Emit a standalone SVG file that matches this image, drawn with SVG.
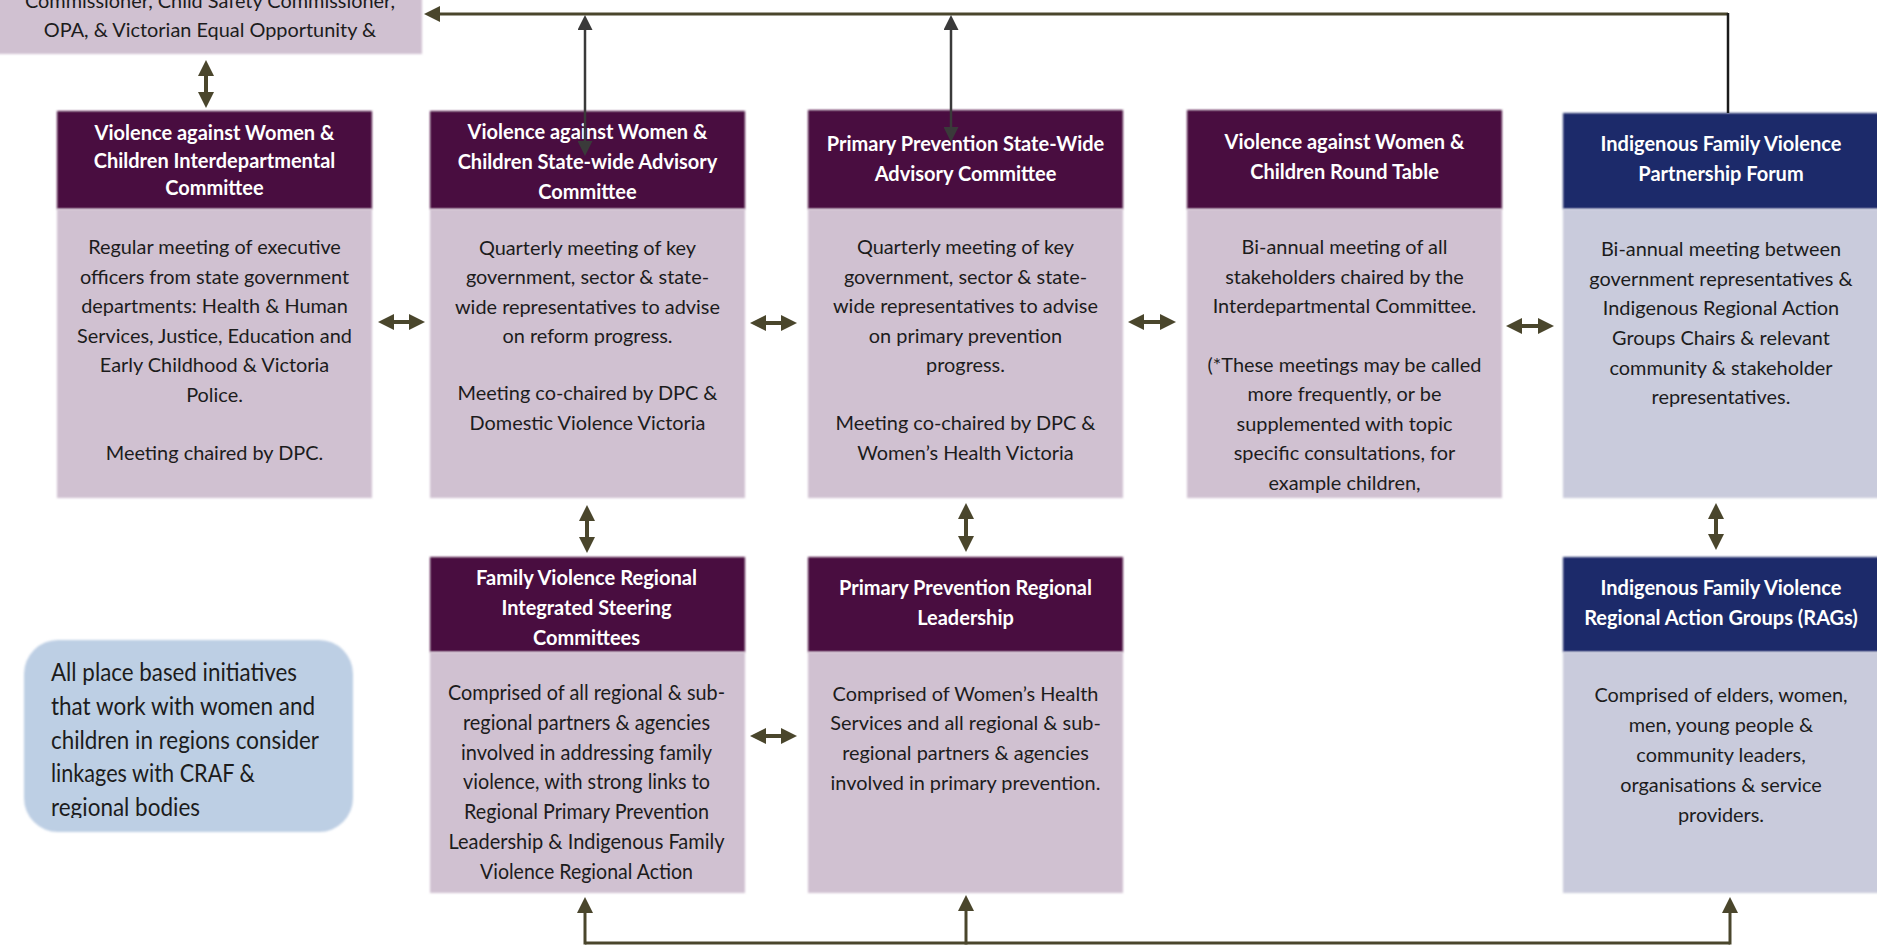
<svg xmlns="http://www.w3.org/2000/svg" width="1877" height="946" viewBox="0 0 1877 946">
<style>
.hp{fill:#4a0b3f}
.bp{fill:#d0c1d1}
.hb{fill:#1b296b}
.bb{fill:#c9cbdc}
.ht{font-family:Lato,"Open Sans",sans-serif;font-weight:bold;font-size:20px;fill:#ffffff;text-anchor:middle}
.bt{font-family:Lato,"Open Sans",sans-serif;font-size:19.9px;fill:#1c1c1c;text-anchor:middle}
.ct{font-family:Lato,"Open Sans",sans-serif;font-size:20.5px;fill:#1c1c1c;text-anchor:middle}
.cht{font-family:Lato,"Open Sans",sans-serif;font-weight:bold;font-size:20.5px;fill:#ffffff;text-anchor:middle}
.rt{font-family:Lato,"Open Sans",sans-serif;font-size:24.5px;fill:#1c1c1c}
.ol{stroke:#4a462c;fill:none}
.dk{stroke:#3a3a3a;fill:none}
</style>
<defs>
<filter id="soft" x="-5%" y="-5%" width="110%" height="110%"><feGaussianBlur stdDeviation="1.2"/></filter>
<marker id="ao" viewBox="0 0 16 16" refX="1" refY="8" markerWidth="16" markerHeight="16" markerUnits="userSpaceOnUse" orient="auto-start-reverse"><path d="M0,0 L16,8 L0,16 z" fill="#4a462c"/></marker>
<marker id="ad" viewBox="0 0 16 16" refX="1" refY="8" markerWidth="15" markerHeight="15" markerUnits="userSpaceOnUse" orient="auto-start-reverse"><path d="M0,0 L16,8 L0,16 z" fill="#3a3a3a"/></marker>
<clipPath id="rclip"><rect x="20" y="640" width="340" height="178"/></clipPath>
</defs>

<g id="top-box">
<rect x="-2" y="-2" width="424" height="56" class="bp" filter="url(#soft)"/>
<text class="bt" x="210" y="8">Commissioner, Child Safety Commissioner,</text>
<text class="bt" x="210" y="37">OPA, &amp; Victorian Equal Opportunity &amp;</text>
</g>

<g id="vawc-interdepartmental">
<rect x="57" y="111" width="315" height="98" class="hp" filter="url(#soft)"/>
<rect x="57" y="209" width="315" height="289" class="bp" filter="url(#soft)"/>
<text class="ht" x="214.5" y="140">Violence against Women &amp;</text>
<text class="ht" x="214.5" y="168">Children Interdepartmental</text>
<text class="ht" x="214.5" y="195">Committee</text>
<text class="bt" x="214.5" y="254">Regular meeting of executive</text>
<text class="bt" x="214.5" y="284">officers from state government</text>
<text class="bt" x="214.5" y="313">departments: Health &amp; Human</text>
<text class="bt" x="214.5" y="343">Services, Justice, Education and</text>
<text class="bt" x="214.5" y="372">Early Childhood &amp; Victoria</text>
<text class="bt" x="214.5" y="402">Police.</text>
<text class="bt" x="214.5" y="460">Meeting chaired by DPC.</text>
</g>

<g id="vawc-statewide-advisory">
<rect x="430" y="111" width="315" height="98" class="hp" filter="url(#soft)"/>
<rect x="430" y="209" width="315" height="289" class="bp" filter="url(#soft)"/>
<text class="ht" x="587.5" y="139">Violence against Women &amp;</text>
<text class="ht" x="587.5" y="169">Children State-wide Advisory</text>
<text class="ht" x="587.5" y="199">Committee</text>
<text class="bt" x="587.5" y="255">Quarterly meeting of key</text>
<text class="bt" x="587.5" y="284">government, sector &amp; state-</text>
<text class="bt" x="587.5" y="314">wide representatives to advise</text>
<text class="bt" x="587.5" y="343">on reform progress.</text>
<text class="bt" x="587.5" y="400">Meeting co-chaired by DPC &amp;</text>
<text class="bt" x="587.5" y="430">Domestic Violence Victoria</text>
</g>

<g id="pp-statewide-advisory">
<rect x="808" y="110" width="315" height="99" class="hp" filter="url(#soft)"/>
<rect x="808" y="209" width="315" height="289" class="bp" filter="url(#soft)"/>
<text class="ht" x="965.5" y="151">Primary Prevention State-Wide</text>
<text class="ht" x="965.5" y="181">Advisory Committee</text>
<text class="bt" x="965.5" y="254">Quarterly meeting of key</text>
<text class="bt" x="965.5" y="284">government, sector &amp; state-</text>
<text class="bt" x="965.5" y="313">wide representatives to advise</text>
<text class="bt" x="965.5" y="343">on primary prevention</text>
<text class="bt" x="965.5" y="372">progress.</text>
<text class="bt" x="965.5" y="430">Meeting co-chaired by DPC &amp;</text>
<text class="bt" x="965.5" y="460">Women’s Health Victoria</text>
</g>

<g id="vawc-round-table">
<rect x="1187" y="110" width="315" height="99" class="hp" filter="url(#soft)"/>
<rect x="1187" y="209" width="315" height="289" class="bp" filter="url(#soft)"/>
<text class="ht" x="1344.5" y="149">Violence against Women &amp;</text>
<text class="ht" x="1344.5" y="179">Children Round Table</text>
<text class="bt" x="1344.5" y="254">Bi-annual meeting of all</text>
<text class="bt" x="1344.5" y="284">stakeholders chaired by the</text>
<text class="bt" x="1344.5" y="313">Interdepartmental Committee.</text>
<text class="bt" x="1344.5" y="372">(*These meetings may be called</text>
<text class="bt" x="1344.5" y="401">more frequently, or be</text>
<text class="bt" x="1344.5" y="431">supplemented with topic</text>
<text class="bt" x="1344.5" y="460">specific consultations, for</text>
<text class="bt" x="1344.5" y="490">example children,</text>
</g>

<g id="ifv-partnership-forum">
<rect x="1563" y="113" width="316" height="96" class="hb" filter="url(#soft)"/>
<rect x="1563" y="209" width="316" height="289" class="bb" filter="url(#soft)"/>
<text class="ht" x="1721" y="151">Indigenous Family Violence</text>
<text class="ht" x="1721" y="181">Partnership Forum</text>
<text class="bt" x="1721" y="256">Bi-annual meeting between</text>
<text class="bt" x="1721" y="286">government representatives &amp;</text>
<text class="bt" x="1721" y="315">Indigenous Regional Action</text>
<text class="bt" x="1721" y="345">Groups Chairs &amp; relevant</text>
<text class="bt" x="1721" y="375">community &amp; stakeholder</text>
<text class="bt" x="1721" y="404">representatives.</text>
</g>

<g id="fv-regional-steering">
<rect x="430" y="557" width="315" height="95" class="hp" filter="url(#soft)"/>
<rect x="430" y="652" width="315" height="241" class="bp" filter="url(#soft)"/>
<text class="cht" x="586.5" y="585" textLength="221" lengthAdjust="spacingAndGlyphs">Family Violence Regional</text>
<text class="cht" x="586.5" y="615" textLength="170" lengthAdjust="spacingAndGlyphs">Integrated Steering</text>
<text class="cht" x="586.5" y="645" textLength="107" lengthAdjust="spacingAndGlyphs">Committees</text>
<text class="ct" x="586.5" y="700" textLength="277" lengthAdjust="spacingAndGlyphs">Comprised of all regional &amp; sub-</text>
<text class="ct" x="586.5" y="730" textLength="247" lengthAdjust="spacingAndGlyphs">regional partners &amp; agencies</text>
<text class="ct" x="586.5" y="760" textLength="251" lengthAdjust="spacingAndGlyphs">involved in addressing family</text>
<text class="ct" x="586.5" y="789" textLength="247" lengthAdjust="spacingAndGlyphs">violence, with strong links to</text>
<text class="ct" x="586.5" y="819" textLength="245" lengthAdjust="spacingAndGlyphs">Regional Primary Prevention</text>
<text class="ct" x="586.5" y="849" textLength="276" lengthAdjust="spacingAndGlyphs">Leadership &amp; Indigenous Family</text>
<text class="ct" x="586.5" y="879" textLength="213" lengthAdjust="spacingAndGlyphs">Violence Regional Action</text>
</g>

<g id="pp-regional-leadership">
<rect x="808" y="557" width="315" height="95" class="hp" filter="url(#soft)"/>
<rect x="808" y="652" width="315" height="241" class="bp" filter="url(#soft)"/>
<text class="ht" x="965.5" y="595">Primary Prevention Regional</text>
<text class="ht" x="965.5" y="625">Leadership</text>
<text class="bt" x="965.5" y="701">Comprised of Women’s Health</text>
<text class="bt" x="965.5" y="730">Services and all regional &amp; sub-</text>
<text class="bt" x="965.5" y="760">regional partners &amp; agencies</text>
<text class="bt" x="965.5" y="790">involved in primary prevention.</text>
</g>

<g id="ifv-rags">
<rect x="1563" y="557" width="316" height="95" class="hb" filter="url(#soft)"/>
<rect x="1563" y="652" width="316" height="241" class="bb" filter="url(#soft)"/>
<text class="ht" x="1721" y="595">Indigenous Family Violence</text>
<text class="ht" x="1721" y="625">Regional Action Groups (RAGs)</text>
<text class="bt" x="1721" y="702">Comprised of elders, women,</text>
<text class="bt" x="1721" y="732">men, young people &amp;</text>
<text class="bt" x="1721" y="762">community leaders,</text>
<text class="bt" x="1721" y="792">organisations &amp; service</text>
<text class="bt" x="1721" y="822">providers.</text>
</g>

<g id="place-based-initiatives">
<rect x="24" y="640" width="329" height="192" rx="34" ry="34" fill="#bdcfe4" filter="url(#soft)"/>
<g clip-path="url(#rclip)">
<text class="rt" x="51" y="681" textLength="246" lengthAdjust="spacingAndGlyphs">All place based initiatives</text>
<text class="rt" x="51" y="715" textLength="264" lengthAdjust="spacingAndGlyphs">that work with women and</text>
<text class="rt" x="51" y="749" textLength="268" lengthAdjust="spacingAndGlyphs">children in regions consider</text>
<text class="rt" x="51" y="782" textLength="204" lengthAdjust="spacingAndGlyphs">linkages with CRAF &amp;</text>
<text class="rt" x="51" y="816" textLength="149" lengthAdjust="spacingAndGlyphs">regional bodies</text>
</g>
</g>

<g id="connectors">
<path class="ol" stroke-width="3" d="M1728,14 L439,14" marker-end="url(#ao)"/>
<path stroke="#1a1a1a" stroke-width="2.5" fill="none" d="M1728,113 L1728,13"/>
<path class="dk" stroke-width="2.5" d="M585,29 L585,142" marker-start="url(#ad)" marker-end="url(#ad)"/>
<path class="dk" stroke-width="2.5" d="M951,29 L951,128" marker-start="url(#ad)" marker-end="url(#ad)"/>
<path class="ol" stroke-width="4" d="M206,75 L206,93" marker-start="url(#ao)" marker-end="url(#ao)"/>
<path class="ol" stroke-width="4" d="M393,322 L410,322" marker-start="url(#ao)" marker-end="url(#ao)"/>
<path class="ol" stroke-width="4" d="M765,323 L782,323" marker-start="url(#ao)" marker-end="url(#ao)"/>
<path class="ol" stroke-width="4" d="M1143,322 L1161,322" marker-start="url(#ao)" marker-end="url(#ao)"/>
<path class="ol" stroke-width="4" d="M1521,326 L1539,326" marker-start="url(#ao)" marker-end="url(#ao)"/>
<path class="ol" stroke-width="4" d="M765,736 L782,736" marker-start="url(#ao)" marker-end="url(#ao)"/>
<path class="ol" stroke-width="4" d="M587,520 L587,538" marker-start="url(#ao)" marker-end="url(#ao)"/>
<path class="ol" stroke-width="4" d="M966,518 L966,537" marker-start="url(#ao)" marker-end="url(#ao)"/>
<path class="ol" stroke-width="4" d="M1716,518 L1716,535" marker-start="url(#ao)" marker-end="url(#ao)"/>
<path class="ol" stroke-width="3" d="M585,943 L1730,943"/>
<path class="ol" stroke-width="3" d="M585,944.5 L585,912" marker-end="url(#ao)"/>
<path class="ol" stroke-width="3" d="M966,944.5 L966,910" marker-end="url(#ao)"/>
<path class="ol" stroke-width="3" d="M1730,944.5 L1730,912" marker-end="url(#ao)"/>
</g>
</svg>
